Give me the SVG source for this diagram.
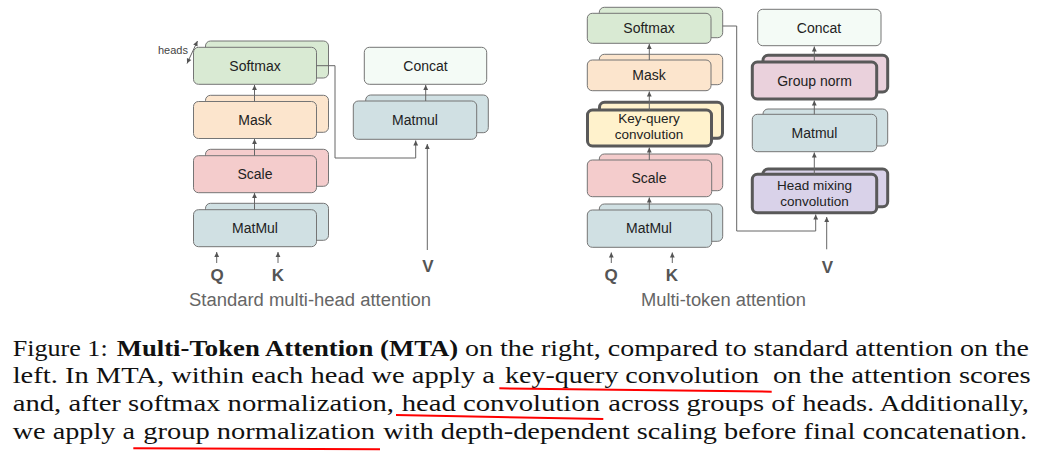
<svg xmlns="http://www.w3.org/2000/svg" width="1039" height="456" viewBox="0 0 1039 456">
<defs>
<marker id="ah" markerUnits="userSpaceOnUse" markerWidth="6" markerHeight="6" refX="5" refY="3" orient="auto">
<path d="M0,0.6 L5,3 L0,5.4 Z" fill="#555"/>
</marker>
<marker id="ahs" markerUnits="userSpaceOnUse" markerWidth="6" markerHeight="6" refX="0" refY="3" orient="auto">
<path d="M5,0.6 L0,3 L5,5.4 Z" fill="#555"/>
</marker>
</defs>
<style>
.b{stroke:#757575;stroke-width:1}
.t{stroke:#595959;stroke-width:3}
.lb{font-family:"Liberation Sans",Arial,sans-serif;font-size:14px;fill:#222;text-anchor:middle}
.lb2{font-family:"Liberation Sans",Arial,sans-serif;font-size:13.5px;fill:#222;text-anchor:middle}
.io{font-family:"Liberation Sans",Arial,sans-serif;font-size:17px;font-weight:bold;fill:#555;text-anchor:middle}
.sub{font-family:"Liberation Sans",Arial,sans-serif;font-size:18px;fill:#666}
.cap{font-family:"Liberation Serif","Times New Roman",serif;font-size:23px;fill:#111}
.conn{stroke:#666;stroke-width:1;fill:none}
.ul{stroke:#f00;stroke-width:2;fill:none}
.sm{fill:#d9ead3}.mk{fill:#fce5cd}.sc{fill:#f4cccc}.mm{fill:#d0e0e3}.kq{fill:#fff2cc}.gn{fill:#ead1dc}.hm{fill:#d9d2e9}.cc{fill:#f4fbf6}
</style>

<!-- Left: standard multi-head attention -->
<g id="softmax-l">
<rect class="b sm" x="205.5" y="41" width="123" height="37" rx="5"/>
<rect class="b sm" x="193.5" y="47.3" width="123" height="37" rx="5"/>
<text class="lb" x="255" y="71">Softmax</text>
</g>
<g id="mask-l">
<rect class="b mk" x="205.5" y="95.3" width="123" height="37" rx="5"/>
<rect class="b mk" x="193.5" y="101.5" width="123" height="37" rx="5"/>
<text class="lb" x="255" y="125">Mask</text>
</g>
<g id="scale-l">
<rect class="b sc" x="205.5" y="149.3" width="123" height="37" rx="5"/>
<rect class="b sc" x="193.5" y="155.7" width="123" height="37" rx="5"/>
<text class="lb" x="255" y="179">Scale</text>
</g>
<g id="matmul-l">
<rect class="b mm" x="205.5" y="203.3" width="123" height="37" rx="5"/>
<rect class="b mm" x="193.5" y="209.7" width="123" height="37" rx="5"/>
<text class="lb" x="255" y="233">MatMul</text>
</g>
<g id="concat-l">
<rect class="b cc" x="364.3" y="47.3" width="122.4" height="37" rx="5"/>
<text class="lb" x="425.5" y="71">Concat</text>
</g>
<g id="matmul2-l">
<rect class="b mm" x="365.7" y="95" width="122.6" height="37.7" rx="5"/>
<rect class="b mm" x="353.3" y="101" width="123.4" height="38.3" rx="5"/>
<text class="lb" x="415" y="125">Matmul</text>
</g>
<g id="heads-label">
<text x="158" y="54" style="font-family:'Liberation Sans',Arial,sans-serif;font-size:11px;fill:#444">heads</text>
</g>
<g id="labels-l">
<text class="io" x="217" y="281">Q</text>
<text class="io" x="278" y="281">K</text>
<text class="io" x="428" y="272">V</text>
<text class="sub" x="189" y="306" textLength="242" lengthAdjust="spacingAndGlyphs">Standard multi-head attention</text>
</g>

<!-- Right: multi-token attention -->
<g id="softmax-r">
<rect class="b sm" x="599.3" y="7.3" width="123.4" height="30.4" rx="5"/>
<rect class="b sm" x="587.3" y="13.3" width="123.7" height="30" rx="5"/>
<text class="lb" x="649" y="33">Softmax</text>
</g>
<g id="mask-r">
<rect class="b mk" x="599.3" y="54.3" width="123.4" height="30.4" rx="5"/>
<rect class="b mk" x="587.3" y="60" width="123.7" height="30.7" rx="5"/>
<text class="lb" x="649" y="80">Mask</text>
</g>
<g id="kqconv-r">
<rect class="t kq" x="599.5" y="102.3" width="123" height="36" rx="5"/>
<rect class="t kq" x="587.5" y="110" width="124" height="36" rx="5"/>
<text class="lb2" x="649" y="123">Key-query</text>
<text class="lb2" x="649" y="139">convolution</text>
</g>
<g id="scale-r">
<rect class="b sc" x="599.3" y="154" width="123.4" height="36.7" rx="5"/>
<rect class="b sc" x="587.3" y="160" width="124.4" height="36.7" rx="5"/>
<text class="lb" x="649" y="183">Scale</text>
</g>
<g id="matmul-r">
<rect class="b mm" x="599.3" y="204" width="123.4" height="37.3" rx="5"/>
<rect class="b mm" x="587.3" y="210" width="124.4" height="37.3" rx="5"/>
<text class="lb" x="649" y="233">MatMul</text>
</g>
<g id="concat-r">
<rect class="b cc" x="757.7" y="9.3" width="123.3" height="36.4" rx="5"/>
<text class="lb" x="819" y="32.5">Concat</text>
</g>
<g id="groupnorm-r">
<rect class="t gn" x="763" y="55.3" width="124.7" height="36.7" rx="5"/>
<rect class="t gn" x="752.3" y="62" width="124.4" height="37" rx="5"/>
<text class="lb" x="814.5" y="85.5">Group norm</text>
</g>
<g id="matmul2-r">
<rect class="b mm" x="763" y="109" width="124.7" height="37" rx="5"/>
<rect class="b mm" x="752.3" y="114.3" width="124.4" height="37.4" rx="5"/>
<text class="lb" x="814.5" y="138">Matmul</text>
</g>
<g id="headmix-r">
<rect class="t hm" x="763" y="169" width="124.7" height="37.7" rx="5"/>
<rect class="t hm" x="752.3" y="174.3" width="124.4" height="38.4" rx="5"/>
<text class="lb2" x="814.5" y="189.5">Head mixing</text>
<text class="lb2" x="814.5" y="205.5">convolution</text>
</g>
<g id="labels-r">
<text class="io" x="611" y="281">Q</text>
<text class="io" x="672" y="281">K</text>
<text class="io" x="827.5" y="273">V</text>
<text class="sub" x="641" y="306" textLength="165" lengthAdjust="spacingAndGlyphs">Multi-token attention</text>
</g>

<!-- Connectors -->
<g id="connectors">
<line class="conn" x1="254.5" y1="101.5" x2="254.5" y2="85" marker-end="url(#ah)"/>
<line class="conn" x1="254.5" y1="155.7" x2="254.5" y2="139" marker-end="url(#ah)"/>
<line class="conn" x1="254.5" y1="209.7" x2="254.5" y2="193" marker-end="url(#ah)"/>
<line class="conn" x1="216.7" y1="263" x2="216.7" y2="252" marker-end="url(#ah)"/>
<line class="conn" x1="278" y1="263" x2="278" y2="252" marker-end="url(#ah)"/>
<line class="conn" x1="425.7" y1="101" x2="425.7" y2="85" marker-end="url(#ah)"/>
<polyline class="conn" points="316.5,65.7 335,65.7 335,158 415.7,158 415.7,140.5" marker-end="url(#ah)"/>
<line class="conn" x1="427.3" y1="250" x2="427.3" y2="144" marker-end="url(#ah)"/>
<line class="conn" x1="187" y1="63.5" x2="197.5" y2="41" marker-start="url(#ahs)" marker-end="url(#ah)"/>

<line class="conn" x1="649.3" y1="60" x2="649.3" y2="44" marker-end="url(#ah)"/>
<line class="conn" x1="649.3" y1="110" x2="649.3" y2="91.5" marker-end="url(#ah)"/>
<line class="conn" x1="649.3" y1="160" x2="649.3" y2="147.5" marker-end="url(#ah)"/>
<line class="conn" x1="649.3" y1="210" x2="649.3" y2="197.5" marker-end="url(#ah)"/>
<line class="conn" x1="611.3" y1="263" x2="611.3" y2="252.5" marker-end="url(#ah)"/>
<line class="conn" x1="672.3" y1="263" x2="672.3" y2="252.5" marker-end="url(#ah)"/>
<line class="conn" x1="814.3" y1="62" x2="814.3" y2="46.5" marker-end="url(#ah)"/>
<line class="conn" x1="814.3" y1="114.3" x2="814.3" y2="100.5" marker-end="url(#ah)"/>
<line class="conn" x1="814.3" y1="174.3" x2="814.3" y2="152.5" marker-end="url(#ah)"/>
<polyline class="conn" points="722.7,26 736.7,26 736.7,231 815.7,231 815.7,214.5" marker-end="url(#ah)"/>
<line class="conn" x1="826.7" y1="249.3" x2="826.7" y2="217" marker-end="url(#ah)"/>
</g>

<!-- Caption -->
<g id="caption">
<text class="cap" x="12.7" y="356" textLength="95" lengthAdjust="spacingAndGlyphs">Figure 1:</text>
<text class="cap" x="116.7" y="356" textLength="341.5" lengthAdjust="spacingAndGlyphs" font-weight="bold">Multi-Token Attention (MTA)</text>
<text class="cap" x="465" y="356" textLength="564" lengthAdjust="spacingAndGlyphs">on the right, compared to standard attention on the</text>
<text class="cap" x="12.7" y="383" textLength="482.3" lengthAdjust="spacingAndGlyphs">left. In MTA, within each head we apply a</text>
<text class="cap" x="505" y="383" textLength="254" lengthAdjust="spacingAndGlyphs">key-query convolution</text>
<text class="cap" x="773" y="383" textLength="257.7" lengthAdjust="spacingAndGlyphs">on the attention scores</text>
<text class="cap" x="12.7" y="411" textLength="381.3" lengthAdjust="spacingAndGlyphs">and, after softmax normalization,</text>
<text class="cap" x="401.7" y="411" textLength="198.3" lengthAdjust="spacingAndGlyphs">head convolution</text>
<text class="cap" x="608.3" y="411" textLength="420.7" lengthAdjust="spacingAndGlyphs">across groups of heads. Additionally,</text>
<text class="cap" x="12.7" y="439" textLength="122.3" lengthAdjust="spacingAndGlyphs">we apply a</text>
<text class="cap" x="143.3" y="439" textLength="231.7" lengthAdjust="spacingAndGlyphs">group normalization</text>
<text class="cap" x="383.3" y="439" textLength="643.7" lengthAdjust="spacingAndGlyphs">with depth-dependent scaling before final concatenation.</text>
<path class="ul" d="M499.3,388.3 L771.7,391.7"/>
<path class="ul" d="M396,415 L603.3,419"/>
<path class="ul" d="M133.3,448.3 L380,449.3"/>
</g>
</svg>
